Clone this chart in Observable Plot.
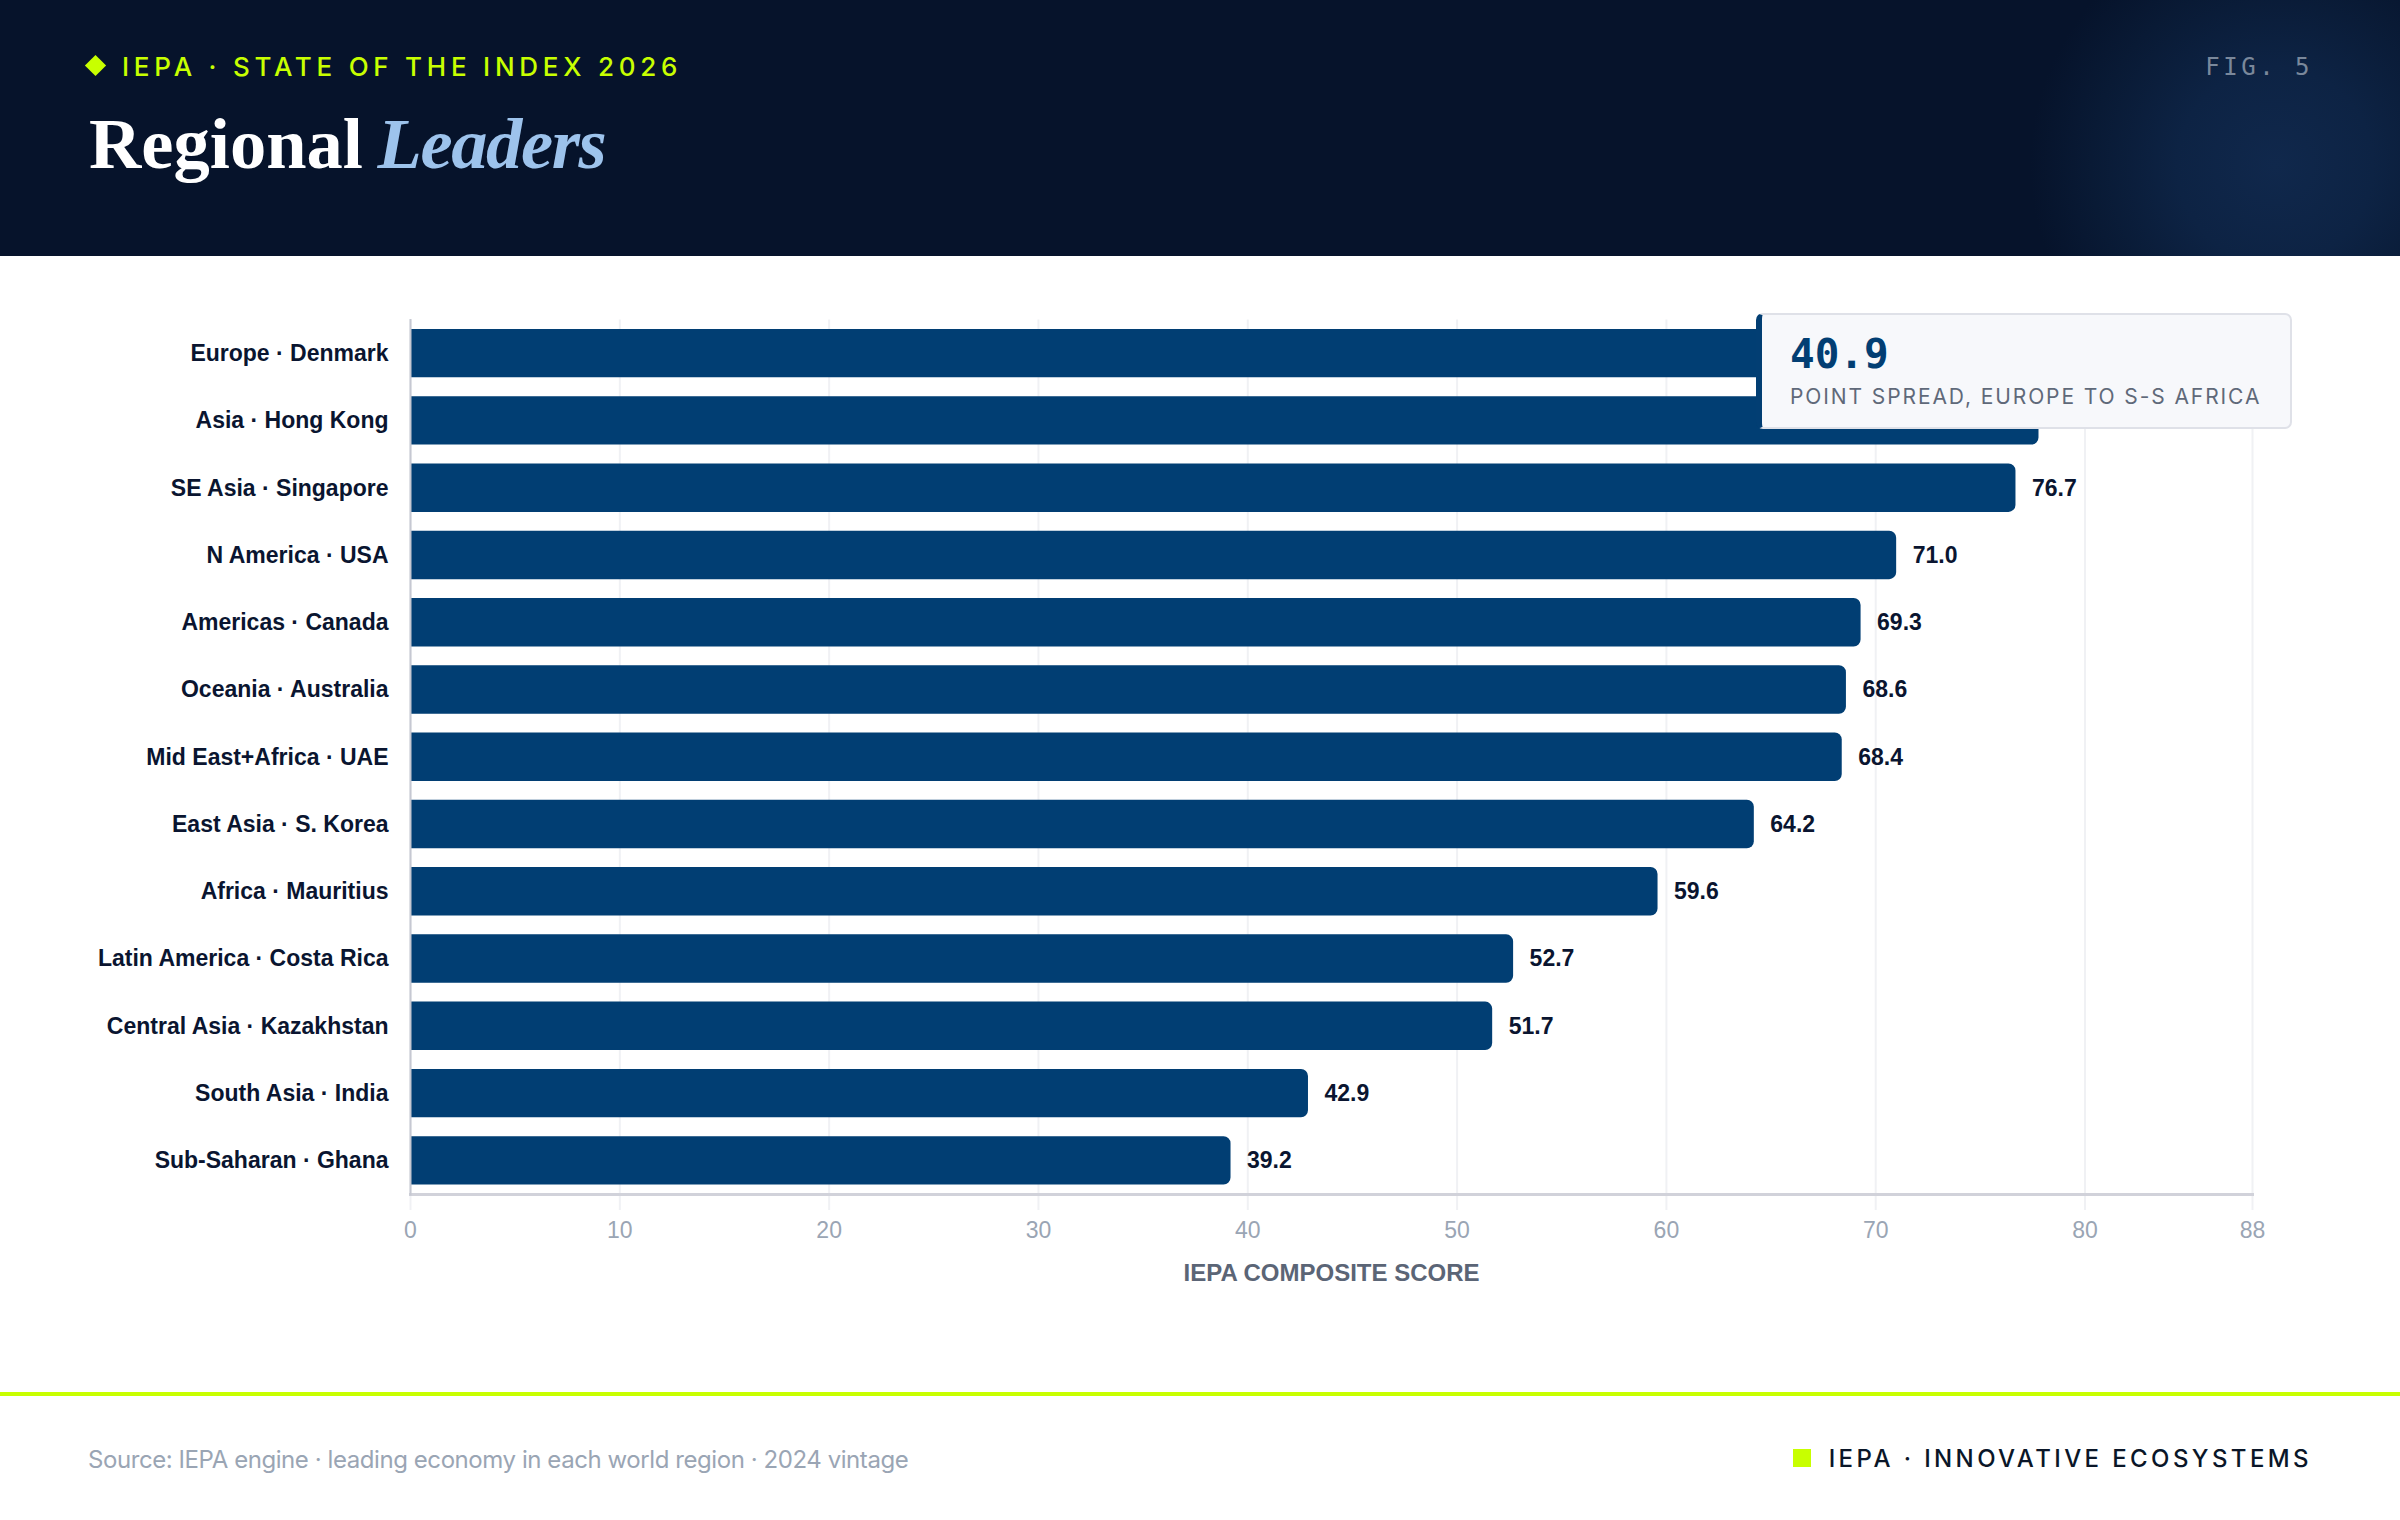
<!DOCTYPE html>
<html>
<head>
<meta charset="utf-8">
<script src="https://cdn.jsdelivr.net/npm/d3@7"></script>
<script src="https://cdn.jsdelivr.net/npm/@observablehq/plot@0.6"></script>
<style>
html,body{margin:0;padding:0;background:#fff;}
#page{position:relative;width:2400px;height:1520px;overflow:hidden;background:#fff;font-family:Inter,sans-serif;}
#header{position:absolute;left:0;top:0;width:2400px;height:256px;background:radial-gradient(circle 245px at 2275px 165px,#10284c 0%,#0d2344 40%,#091a35 75%,#06132b 100%),#06132b;}
#diamond{position:absolute;left:88px;top:58px;width:15px;height:15px;background:#c8ff00;transform:rotate(45deg);}
#eyebrow{position:absolute;left:122px;top:50px;font:500 26px/34px Inter,sans-serif;letter-spacing:4.75px;color:#c8ff00;white-space:nowrap;}
#title{position:absolute;left:89px;top:102px;font:700 72.5px/84px "Liberation Serif",serif;color:#fff;white-space:nowrap;}
#title em{color:#9dc3ec;font-style:italic;font-weight:700;margin-left:-3.5px;letter-spacing:-1.4px;}
#fig{position:absolute;right:87px;top:52px;font:400 24px/30px "DejaVu Sans Mono",monospace;letter-spacing:3.5px;color:#7a889b;white-space:nowrap;}
#chart{position:absolute;left:0;top:256px;}
#callout{position:absolute;left:1756px;top:313px;width:528px;height:112px;box-sizing:content-box;background:#f7f8fb;border:2px solid #dfe1e8;border-left:6px solid #023e73;border-radius:7px;}
#callout .num{position:absolute;left:28px;top:14px;font:700 41px/50px "DejaVu Sans Mono",monospace;color:#023e73;white-space:nowrap;}
#callout .sub{position:absolute;left:28px;top:68px;font:400 21px/28px Inter,sans-serif;letter-spacing:1.9px;color:#5f6979;white-space:nowrap;}
#rule{position:absolute;left:0;top:1392px;width:2400px;height:4px;background:#c8ff00;}
#source{position:absolute;left:88px;top:1444px;font:400 24px/32px Inter,sans-serif;letter-spacing:-0.43px;color:#9aa5b4;white-space:nowrap;}
#sq{position:absolute;left:1793px;top:1449px;width:18px;height:18px;background:#c8ff00;}
#brand{position:absolute;right:88px;top:1443px;font:500 24px/32px Inter,sans-serif;letter-spacing:3.4px;color:#0a1628;white-space:nowrap;}
</style>
</head>
<body>
<div id="page">
  <div id="header">
    <div id="diamond"></div>
    <div id="eyebrow">IEPA · STATE OF THE INDEX 2026</div>
    <div id="title">Regional <em>Leaders</em></div>
    <div id="fig">FIG. 5</div>
  </div>
  <div id="chart"></div>
  <div id="callout"><div class="num">40.9</div><div class="sub">POINT SPREAD, EUROPE TO S-S AFRICA</div></div>
  <div id="rule"></div>
  <div id="source">Source: IEPA engine · leading economy in each world region · 2024 vintage</div>
  <div id="sq"></div>
  <div id="brand">IEPA · INNOVATIVE ECOSYSTEMS</div>
</div>
<script>
const labels = ["Europe · Denmark","Asia · Hong Kong","SE Asia · Singapore","N America · USA","Americas · Canada","Oceania · Australia","Mid East+Africa · UAE","East Asia · S. Korea","Africa · Mauritius","Latin America · Costa Rica","Central Asia · Kazakhstan","South Asia · India","Sub-Saharan · Ghana"];
const values = [80.1,77.8,76.7,71.0,69.3,68.6,68.4,64.2,59.6,52.7,51.7,42.9,39.2];
const xTicks = [0,10,20,30,40,50,60,70,80,88];
const xTitle = "IEPA COMPOSITE SCORE";
const rows = labels.map((label,i)=>({label,value:values[i]}));
const navy="#013e73", ink="#0a1530", grid="#f0f1f4", axisLine="#d1d2da";
const plot = Plot.plot({
  width:2400,height:1136,
  marginLeft:410,marginRight:148,marginTop:63.5,marginBottom:198,
  style:{fontFamily:'"Liberation Sans",Arial,sans-serif',background:"transparent"},
  x:{domain:[0,88],label:null},
  y:{domain:labels,paddingInner:0.28,paddingOuter:0.14,round:false,label:null},
  marks:[
    Plot.gridX(xTicks,{stroke:grid,strokeWidth:2,strokeOpacity:1}),
    Plot.axisX(xTicks,{tickSize:16,stroke:grid,strokeWidth:2,strokeOpacity:1,tickPadding:11,fontSize:23,fill:"#9aa5b4",tickFormat:d=>String(d),label:null}),
    Plot.axisY({tickSize:0,tickPadding:22,fontSize:23,fontWeight:700,fill:ink,label:null}),
    Plot.barX(rows,{x:"value",y:"label",fill:navy,rx2:7}),
    Plot.frame({anchor:"bottom",stroke:axisLine,strokeWidth:3}),
    Plot.frame({anchor:"left",stroke:"#c6c8d2",strokeWidth:2}),
    Plot.text(rows,{x:"value",y:"label",text:d=>d.value.toFixed(1),dx:16,textAnchor:"start",fontSize:23,fontWeight:700,fill:ink}),
    Plot.text([xTitle],{x:[44],frameAnchor:"bottom",dy:86,fontSize:24,fontWeight:700,fill:"#5b6576",text:d=>d})
  ]
});
document.getElementById("chart").appendChild(plot);
</script>
</body>
</html>
